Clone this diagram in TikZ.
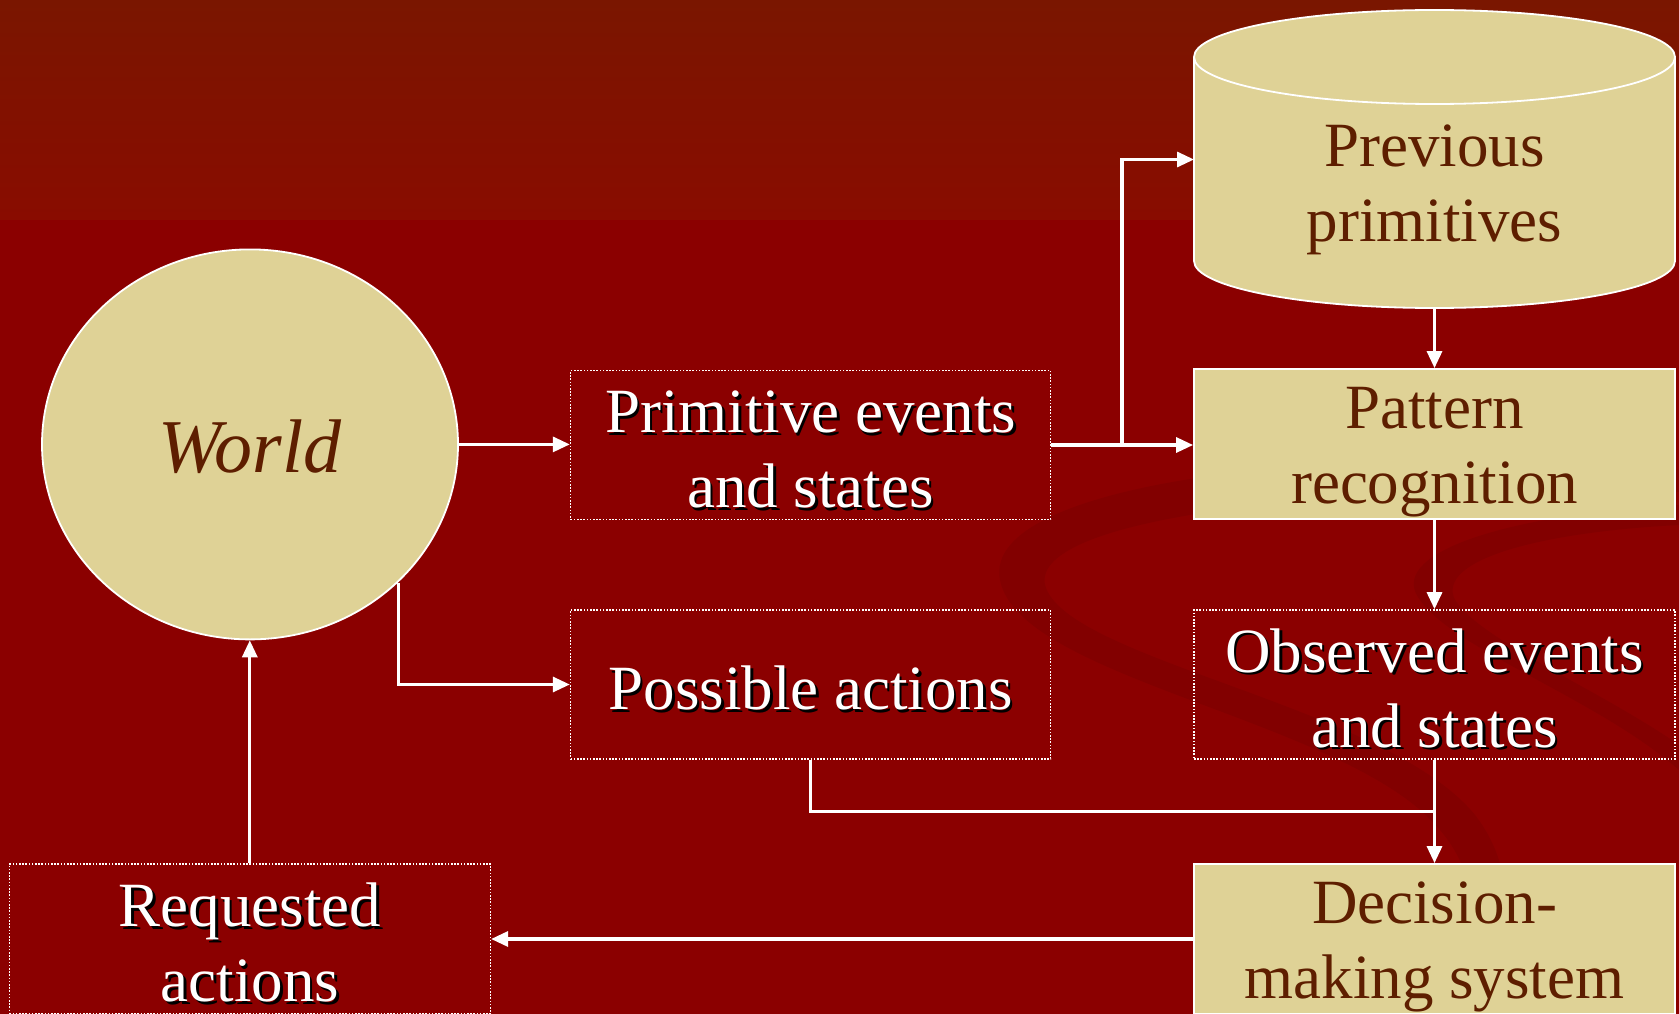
\documentclass[tikz,border=0pt]{standalone}
\usepackage{fontspec}
\setmainfont{Liberation Serif}
\usetikzlibrary{arrows.meta,shapes.geometric,calc}
\definecolor{bgred}{RGB}{139,0,0}
\definecolor{bandtop}{RGB}{122,22,0}
\definecolor{bandbot}{RGB}{137,12,0}
\definecolor{tanfill}{RGB}{223,210,150}
\definecolor{darkbrown}{RGB}{94,30,0}
\definecolor{swirlred}{RGB}{130,0,0}
\newcommand\shd[1]{\leavevmode\rlap{\kern2.5pt\raisebox{-2.5pt}{\color{black}#1}}{\color{white}#1}}
\newcommand\lstrut{\rule[-8pt]{0pt}{66pt}}
\tikzset{
  dotbox/.style={draw=white, line width=1.6pt, dash pattern=on 1.6pt off 1.6pt,
    minimum width=480pt, minimum height=149pt, inner sep=0pt, align=center,
    font=\fontsize{63}{75}\selectfont, text=white},
  tanbox/.style={draw=white, line width=1.8pt, fill=tanfill,
    minimum width=481pt, minimum height=150pt, inner sep=0pt, align=center,
    font=\fontsize{63}{75}\selectfont, text=darkbrown},
  conn/.style={draw=white, line width=3.2pt},
  arr/.style={conn, -{Triangle[length=17pt,width=15pt]}},
  cylline/.style={draw=white, line width=1.8pt},
}
\begin{document}
\begin{tikzpicture}[x=1pt,y=-1pt]
\useasboundingbox (0,0) rectangle (1679,1014);
% background
\fill[bgred] (0,0) rectangle (1679,1014);
\shade[top color=bandtop, bottom color=bandbot] (0,0) rectangle (1679,219);
% faint swirls
\fill[swirlred] (1679,470) .. controls (1350,440) and (980,480) .. (1000,580)
  .. controls (1020,680) and (1350,720) .. (1440,830)
  .. controls (1500,900) and (1460,980) .. (1420,1014) -- (1450,1014)
  .. controls (1510,960) and (1525,880) .. (1475,815)
  .. controls (1385,705) and (1065,660) .. (1045,585)
  .. controls (1030,515) and (1350,482) .. (1679,492) -- cycle;
\fill[swirlred] (1679,505) .. controls (1500,515) and (1385,555) .. (1420,600)
  .. controls (1455,650) and (1600,700) .. (1679,770) -- (1679,745)
  .. controls (1600,690) and (1480,640) .. (1455,600)
  .. controls (1435,560) and (1540,532) .. (1679,525) -- cycle;
% cylinder
\fill[tanfill] (1194,57) rectangle (1675,261);
\fill[tanfill] (1434.5,261) ellipse [x radius=240.5, y radius=47];
\filldraw[fill=tanfill, cylline] (1434.5,57) ellipse [x radius=240.5, y radius=47];
\draw[cylline] (1194,57) -- (1194,261);
\draw[cylline] (1675,57) -- (1675,261);
\begin{scope}
  \clip (1180,261) rectangle (1690,330);
  \draw[cylline] (1434.5,261) ellipse [x radius=240.5, y radius=47];
\end{scope}
\node[align=center, inner sep=0pt, font=\fontsize{63}{75}\selectfont, text=darkbrown]
  (cyl) at (1434.5,181.5) {\lstrut Previous\\\lstrut primitives};
\coordinate (cylL) at (1194,159.5);
\coordinate (cylB) at (1434.5,308);
% nodes
\node[ellipse, draw=white, line width=1.8pt, fill=tanfill, minimum width=416pt,
  minimum height=390pt, inner sep=0pt, font=\fontsize{76}{80}\selectfont\itshape,
  text=darkbrown] (World) at (250,444.4) {\rule{0pt}{58pt}World};
\node[dotbox] (prim) at (810.6,445) {\lstrut\shd{Primitive events}\\\lstrut\shd{and states}};
\node[dotbox] (poss) at (810.6,684.5) {\lstrut\shd{Possible actions}};
\node[tanbox] (pat) at (1434.5,444) {\lstrut Pattern\\\lstrut recognition};
\node[dotbox, minimum width=481pt] (obs) at (1434.5,684.5) {\lstrut\shd{Observed events}\\\lstrut\shd{and states}};
\node[tanbox] (dec) at (1434.5,939) {\lstrut Decision-\\\lstrut making system};
\node[dotbox, minimum width=481pt, minimum height=150pt] (req) at (249.8,939) {\lstrut\shd{Requested}\\\lstrut\shd{actions}};
% connectors
\coordinate (br) at ($(prim.east)+(70.5,0)$);
\coordinate (jn) at ($(obs.south)+(0,51.6)$);
\draw[arr] (World.east) -- (World.east -| prim.west);
\draw[arr] (prim.east) -- (prim.east -| pat.west);
\draw[arr] (br) |- (cylL);
\draw[arr] (cylB) -- (pat.north);
\draw[arr] (pat.south) -- (obs.north);
\draw[arr] (obs.south) -- (dec.north);
\draw[conn] (poss.south) |- (jn);
\draw[arr] (World.-43) |- (poss.west);
\draw[arr] (dec.west) -- (req.east);
\draw[arr] (req.north) -- (req.north |- World.south);
\end{tikzpicture}
\end{document}
